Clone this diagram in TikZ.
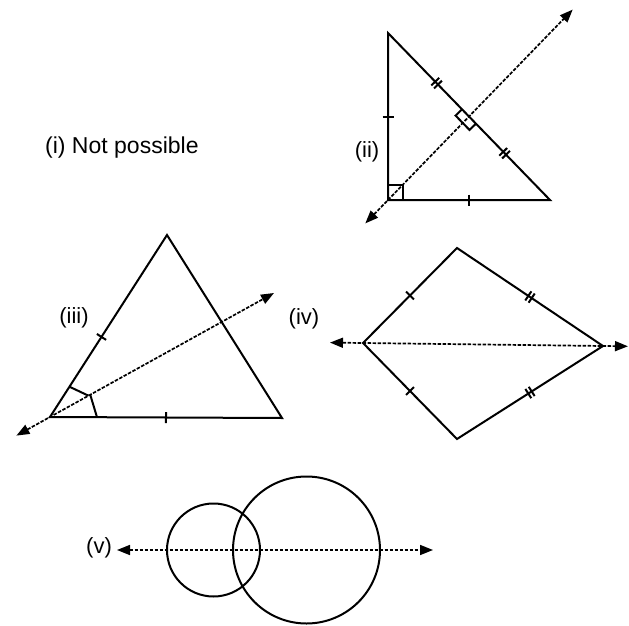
\documentclass[tikz,border=0pt]{standalone}
\usepackage{fontspec}
\setmainfont{Liberation Sans}
\usetikzlibrary{calc,arrows.meta}
\newcommand{\mysingletick}[3]{%
  \path ($(#1)!#3!(#2)$) coordinate (tk);
  \draw[solidline] ($(tk)!5.5pt!90:(#2)$) -- ($(tk)!5.5pt!-90:(#2)$);}
\newcommand{\mydoubletick}[3]{%
  \path ($(#1)!#3!(#2)$) coordinate (tk);
  \path ($(tk)!2pt!(#2)$) coordinate (tka);
  \path ($(tk)!-2pt!(#2)$) coordinate (tkb);
  \draw[solidline] ($(tka)!5.5pt!90:(#2)$) -- ($(tka)!5.5pt!-90:(#2)$);
  \draw[solidline] ($(tkb)!5.5pt!90:(#2)$) -- ($(tkb)!5.5pt!-90:(#2)$);}
\tikzset{
  solidline/.style={line width=2pt, line join=miter},
  dline/.style={line width=1.7pt, dash pattern=on 3.5pt off 1.5pt},
  darrow/.style={dline, {Triangle[length=13pt,width=10pt]}-{Triangle[length=13pt,width=10pt]}},
  lbl/.style={inner sep=0pt, font=\fontsize{22}{26}\selectfont}
}
\begin{document}
\begin{tikzpicture}[x=1pt,y=-1pt]
\useasboundingbox (0,0) rectangle (629,626);
% (i)
\node[lbl, anchor=west, font=\fontsize{23}{27}\selectfont] (li) at (45,148) {(i) Not possible};
% (ii)
\coordinate (C2) at (388,200);
\coordinate (T2) at (388,33);
\coordinate (B2) at (550,200);
\coordinate (M2) at ($(T2)!0.5!(B2)$);
\draw[solidline] (T2) -- (C2) -- (B2) -- cycle;
\coordinate (P2a) at ($(C2)!-0.28!(M2)$);
\coordinate (P2b) at ($(C2)!2.28!(M2)$);
\draw[darrow] (P2a) -- (P2b);
\draw[solidline] (403,200) -- (403,185) -- (388,185);
\path ($(M2)!10pt!(B2)$) coordinate (r1);
\path ($(M2)!10pt!(T2)$) coordinate (r2);
\draw[solidline] (r1) -- ($(r1)!9pt!-90:(B2)$) -- ($(r2)!9pt!90:(T2)$) -- (r2);
\mysingletick{C2}{T2}{0.5}
\mysingletick{C2}{B2}{0.5}
\mydoubletick{T2}{B2}{0.3}
\mydoubletick{T2}{B2}{0.72}
\node[lbl] (lii) at (367,152) {(ii)};
% (iii)
\coordinate (A3) at (50,417);
\coordinate (T3) at (167,235);
\coordinate (R3) at (282,418);
\coordinate (E3) at (274,293);
\draw[solidline] (A3) -- (T3) -- (R3) -- cycle;
\coordinate (S3) at ($(A3)!-0.15!(E3)$);
\draw[darrow] (S3) -- (E3);
\draw[solidline] ($(A3)!36pt!(T3)$) -- ($(A3)!44pt!(E3)$);
\draw[solidline] ($(A3)!46pt!(E3)$) -- ($(A3)!47pt!(R3)$);
\mysingletick{A3}{T3}{0.44}
\mysingletick{A3}{R3}{0.5}
\node[lbl] (liii) at (74,318) {(iii)};
% (iv)
\coordinate (L4) at (363,343);
\coordinate (T4) at (457,248);
\coordinate (R4) at (603,346);
\coordinate (B4) at (457,439);
\draw[solidline] (L4) -- (T4) -- (R4) -- (B4) -- cycle;
\coordinate (S4) at ($(L4)!-0.1375!(R4)$);
\coordinate (E4) at ($(R4)!-0.104!(L4)$);
\draw[darrow] (S4) -- (E4);
\mysingletick{L4}{T4}{0.5}
\mysingletick{L4}{B4}{0.5}
\mydoubletick{T4}{R4}{0.5}
\mydoubletick{B4}{R4}{0.5}
\node[lbl] (liv) at (304,319) {(iv)};
% (v)
\coordinate (O1) at (213.5,550);
\coordinate (O2) at (306.5,550);
\draw[solidline] (O1) circle[radius=46.5];
\draw[solidline] (O2) circle[radius=73.5];
\coordinate (S5) at (117,550);
\coordinate (E5) at (433,550);
\draw[darrow] (S5) -- (E5);
\node[lbl] (lv) at (99,548) {(v)};
\end{tikzpicture}
\end{document}
